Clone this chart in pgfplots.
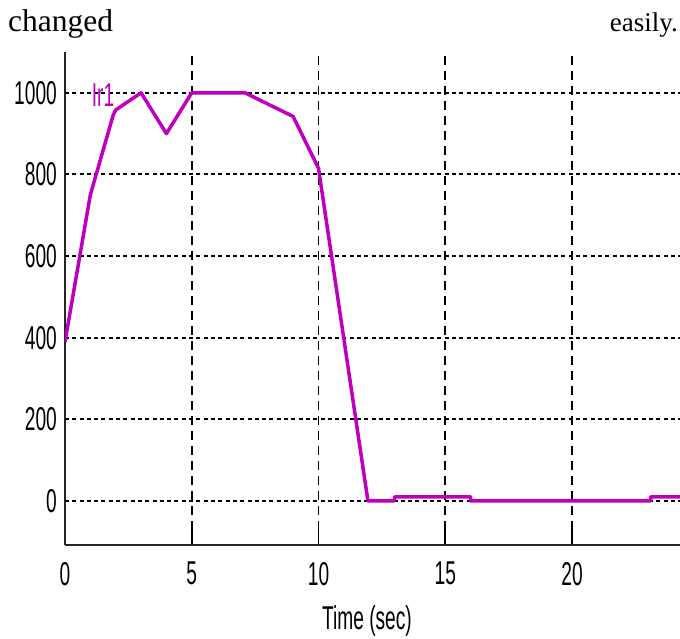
\documentclass[border=0pt]{standalone}
\usepackage{fontspec}
\usepackage{pgfplots}
\pgfplotsset{compat=1.18}
\newfontfamily\nsans[FakeStretch=0.58]{Liberation Sans}
\newfontfamily\tserif{Liberation Serif}
\definecolor{lmag}{RGB}{190,0,190}
\begin{document}
\begin{tikzpicture}
\path[use as bounding box] (-65pt,-94pt) rectangle (615pt,545pt);
\node[anchor=base west, inner sep=0pt, font=\tserif\fontsize{31.5}{36}\selectfont] at (-57pt,513pt) {changed};
\node[anchor=base east, inner sep=0pt, font=\tserif\fontsize{27}{32}\selectfont] at (613pt,513pt) {easily.};
\begin{axis}[
  scale only axis, width=615pt, height=493pt,
  xmin=0, xmax=24.26, ymin=-108, ymax=1100,
  axis x line=bottom, axis y line=left,
  axis line style={-, line width=1.8pt, black!85},
  xtick={0,5,10,15,20}, ytick={0,200,400,600,800,1000},
  tick align=inside, major tick length=18pt,
  xtick style={line width=1.6pt, black},
  ytick style={draw=none},
  grid=major,
  major x grid style={black, line width=1.6pt, dash pattern=on 9pt off 6pt},
  major y grid style={black, line width=2pt, dash pattern=on 4pt off 3.3pt},
  ticklabel style={font=\nsans\fontsize{33}{36}\selectfont, inner sep=0pt},
  xticklabel style={yshift=-17pt},
  yticklabel style={xshift=-8pt},
  /pgf/number format/assume math mode=true,
  /pgf/number format/1000 sep={},
  every axis x label/.style={at={(axis description cs:0.491,0)}, anchor=base, yshift=-85pt, inner sep=0pt, font=\nsans\fontsize{33}{36}\selectfont},
  xlabel={Time (sec)},
]
\addplot[lmag, line width=3.5pt, line join=round] coordinates {
 (0,390) (1,750) (1.9,945) (2.0,958) (3,1000) (4,900) (5,1000) (7.1,1000)
 (9,942) (10,815) (11.95,0) (13,0) (13,10) (16,10) (16,0) (23.1,0) (23.1,10) (24.4,10)
};
\node[text=lmag, inner sep=0pt, font=\nsans\fontsize{33}{36}\selectfont] at (axis cs:1.5,995) {Ir1};
\end{axis}
\end{tikzpicture}
\end{document}
